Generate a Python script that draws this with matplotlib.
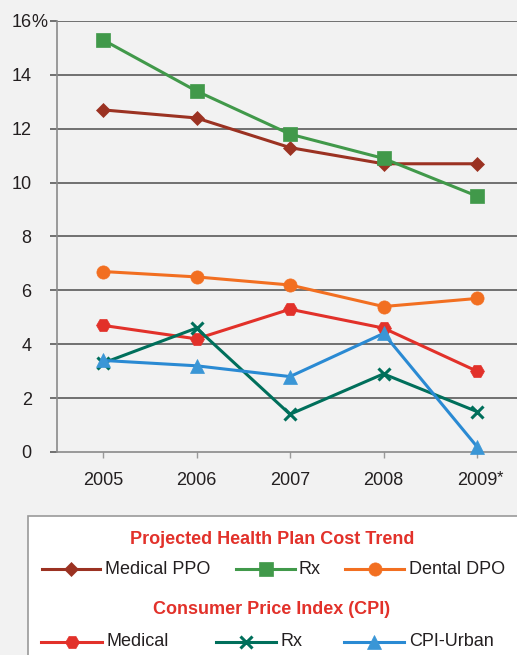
import matplotlib
matplotlib.use("Agg")
import matplotlib.pyplot as plt
from matplotlib.lines import Line2D
from matplotlib.patches import Rectangle

plt.rcParams['font.family'] = ['Liberation Sans', 'DejaVu Sans']

years = ["2005", "2006", "2007", "2008", "2009"]
yticks = [0, 2, 4, 6, 8, 10, 12, 14, 16]

medical_ppo = [12.7, 12.4, 11.3, 10.7, 10.7]
rx_plan = [15.3, 13.4, 11.8, 10.9, 9.5]
dental_dpo = [6.7, 6.5, 6.2, 5.4, 5.7]
cpi_medical = [4.7, 4.2, 5.3, 4.6, 3.0]
cpi_rx = [3.3, 4.6, 1.4, 2.9, 1.5]
cpi_urban = [3.4, 3.2, 2.8, 4.4, 0.2]

group1_title = "Projected Health Plan Cost Trend"
group2_title = "Consumer Price Index (CPI)"
group1_labels = ["Medical PPO", "Rx", "Dental DPO"]
group2_labels = ["Medical", "Rx", "CPI-Urban"]

C_BROWN = '#9b3222'
C_GREEN = '#41994a'
C_ORANGE = '#f26f21'
C_RED = '#e2312a'
C_TEAL = '#006f5b'
C_BLUE = '#2a8ad3'
TXT = '#231f20'
BG = '#f2f2f2'

W, H, DPI = 517, 655, 100
fig = plt.figure(figsize=(W / DPI, H / DPI), dpi=DPI, facecolor=BG)


def fx(x):
    return x / W


def fy(y):
    return 1 - y / H


ax_left, ax_right, ax_top, ax_bot = 56.7, 517, 21, 452
ax = fig.add_axes([fx(ax_left), fy(ax_bot), fx(ax_right - ax_left), (ax_bot - ax_top) / H])
ax.set_facecolor(BG)

x = list(range(len(years)))
p0, step = 103, 93.5
ax.set_xlim((ax_left - p0) / step, (ax_right - p0) / step)
ax.set_ylim(0, 16)

styles = [
    (medical_ppo, C_BROWN, 'D', 7.2, C_BROWN),
    (rx_plan, C_GREEN, 's', 10, C_GREEN),
    (dental_dpo, C_ORANGE, 'o', 9.5, C_ORANGE),
    (cpi_medical, C_RED, 'H', 10, C_RED),
    (cpi_rx, C_TEAL, 'x', 9, C_TEAL),
    (cpi_urban, C_BLUE, '^', 10, '#3a96d6'),
]
for vals, col, mk, ms, mcol in styles:
    ax.plot(x, vals, color=col, lw=2.2, marker=mk, ms=ms, mfc=mcol, mec=mcol,
            mew=2.2 if mk == 'x' else 0.5, zorder=3, clip_on=False)

ax.set_yticks(yticks)
ax.set_yticklabels([str(v) for v in yticks])
ax.set_xticks(x)
ax.set_xticklabels(years)
for yv in yticks[1:]:
    ax.axhline(yv, color='#5a5a5a', lw=1.2, zorder=1)

for s in ['top', 'right']:
    ax.spines[s].set_visible(False)
for s in ['left', 'bottom']:
    ax.spines[s].set_color('#8a8a8a')
    ax.spines[s].set_linewidth(1.2)

ax.tick_params(axis='y', length=5, width=1.2, color='#5a5a5a', pad=13,
               labelsize=13, labelcolor=TXT)
ax.tick_params(axis='x', length=4.5, width=1.0, color='#9a9a9a', pad=10,
               labelsize=13, labelcolor=TXT)

ylabels = ax.get_yticklabels()
ax.annotate('%', xy=(1.0, 0.5), xycoords=ylabels[-1], ha='left', va='center',
            fontsize=13, color=TXT)
xlabels = ax.get_xticklabels()
ax.annotate('*', xy=(1.0, 1.1), xycoords=xlabels[-1], ha='left', va='top',
            fontsize=12, color=TXT)

# Legend box
fig.add_artist(Rectangle((fx(28), fy(680)), fx(520), (680 - 516) / H,
                         transform=fig.transFigure, facecolor='white',
                         edgecolor='#9a9a9a', lw=1.2, clip_on=False))

fig.text(fx(272), fy(540), group1_title, ha='center', va='center',
         fontsize=13, fontweight='bold', color=C_RED)
fig.text(fx(272), fy(610), group2_title, ha='center', va='center',
         fontsize=13, fontweight='bold', color=C_RED)

rows = [
    (569, group1_labels, styles[:3], [(42, 100, 105), (236, 295, 299), (345, 404, 409)]),
    (642, group2_labels, styles[3:], [(41, 102, 107), (216, 276, 281), (344, 404, 409)]),
]
for yrow, labels, sty, pos in rows:
    for lab, (vals, col, mk, ms, mcol), (x0, x1, xt) in zip(labels, sty, pos):
        fig.add_artist(Line2D([fx(x0), fx(x1)], [fy(yrow), fy(yrow)],
                              transform=fig.transFigure, color=col, lw=2.2))
        fig.add_artist(Line2D([fx((x0 + x1) / 2)], [fy(yrow)],
                              transform=fig.transFigure, color=col, lw=0,
                              marker=mk, ms=ms, mfc=mcol, mec=mcol,
                              mew=2.2 if mk == 'x' else 0.5))
        fig.text(fx(xt), fy(yrow), lab, ha='left', va='center',
                 fontsize=13, color=TXT)

fig.savefig('out.png', dpi=DPI, facecolor=BG)
